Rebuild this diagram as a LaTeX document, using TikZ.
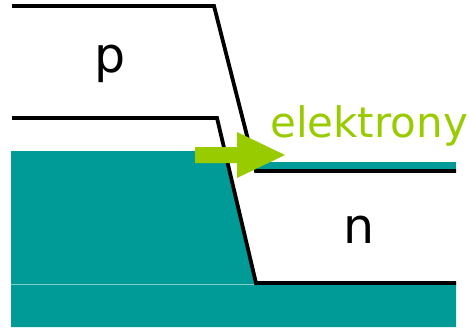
\documentclass[tikz,border=0pt]{standalone}
\usepackage{fontspec}
\setmainfont{DejaVu Sans}
\definecolor{tealfill}{RGB}{0,155,150}
\definecolor{arrowgreen}{RGB}{153,204,0}
\begin{document}
\begin{tikzpicture}[x=1pt,y=-1pt,
  band/.style={line width=3.8pt, line join=miter},
  lbl/.style={inner sep=0pt, anchor=base}]
\useasboundingbox (0,0) rectangle (469,327);
% teal regions
\fill[tealfill] (11,151) -- (224.8,151) -- (256,283) -- (456,283) -- (456,327) -- (11,327) -- cycle;
\draw[white, opacity=0.5, line width=0.6pt] (11,284) -- (254,284);
\fill[tealfill] (256,162) rectangle (456,170);
% band edges
\draw[band] (12,6) -- (214,6) -- (256,171) -- (456,171);
\draw[band] (12,118) -- (217,118) -- (256,283) -- (456,283);
% arrow
\fill[arrowgreen] (195,147) -- (237,147) -- (237,132) -- (285,155) -- (237,178) -- (237,163) -- (195,163) -- cycle;
% labels
\node[lbl, font=\fontsize{49}{49}\selectfont] (p) at (110,72) {p};
\node[lbl, font=\fontsize{49}{49}\selectfont] (n) at (359,243) {n};
\node[lbl, font=\fontsize{42}{42}\selectfont, text=arrowgreen] (el) at (369,137) {elektrony};
\end{tikzpicture}
\end{document}
